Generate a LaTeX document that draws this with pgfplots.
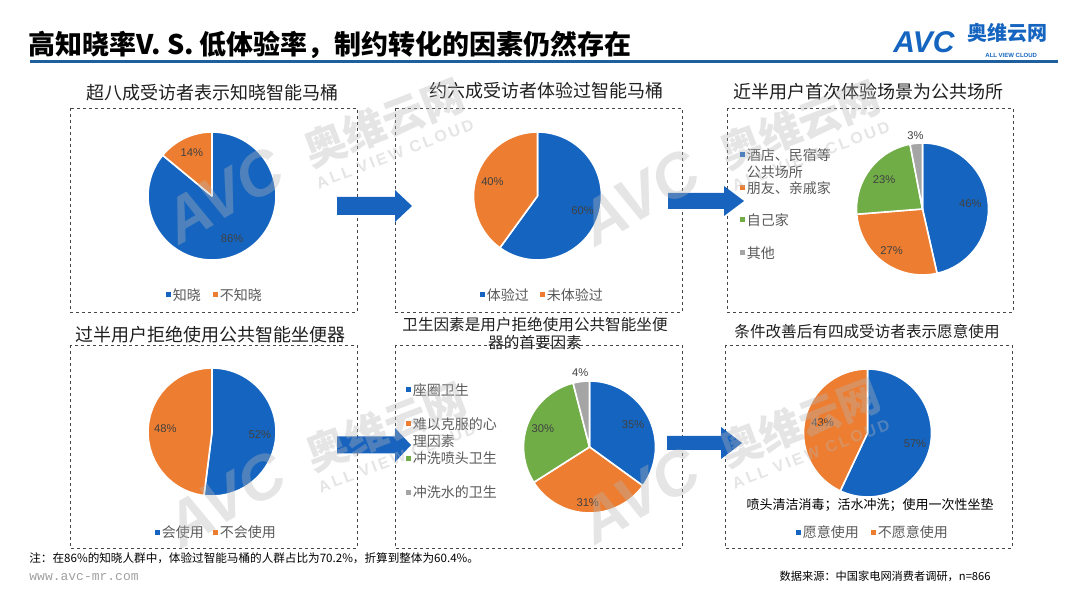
\documentclass[border=0pt]{standalone}
\usepackage{pgfplots}
\pgfplotsset{compat=1.18}
\usepackage{pgfplotstable}
\usepackage{fontspec}
\setmainfont{Noto Sans CJK SC}
\newfontfamily\arialf{Liberation Sans}
\newfontfamily\monof{Liberation Mono}

\definecolor{pblue}{RGB}{21,101,192}
\definecolor{porange}{RGB}{237,125,49}
\definecolor{pgreen}{RGB}{112,173,71}
\definecolor{pgray}{RGB}{165,165,165}
\definecolor{hdrblue}{RGB}{31,95,158}
\definecolor{arrowblue}{RGB}{23,99,190}
\definecolor{labgray}{RGB}{64,64,64}
\definecolor{leggray}{RGB}{89,89,89}
\definecolor{boxgray}{RGB}{70,70,70}
\definecolor{wwwgray}{RGB}{160,160,160}
\definecolor{wmgray}{RGB}{182,182,182}

% ---- data ----
\pgfplotstableread{
value color lr
86 pblue 0.74
14 porange 0.74
}\pieA
\pgfplotstableread{
value color lr
60 pblue 0.74
40 porange 0.74
}\pieB
\pgfplotstableread{
value color lr
46 pblue 0.73
27 porange 0.79
23 pgreen 0.73
3 pgray 1.12
}\pieC
\pgfplotstableread{
value color lr
52 pblue 0.75
48 porange 0.73
}\pieD
\pgfplotstableread{
value color lr
35 pblue 0.74
31 porange 0.85
30 pgreen 0.76
4 pgray 1.13
}\pieE
\pgfplotstableread{
value color lr
57 pblue 0.76
43 porange 0.72
}\pieF

\tikzset{pielabel/.style={font=\arialf\fontsize{5.6}{6}\selectfont, text=labgray, inner sep=0pt}}
\pgfplotsset{pieaxis/.style={hide axis, anchor=center, xmin=-1.25, xmax=1.25, ymin=-1.25, ymax=1.25, clip=false}}

\newcommand\piechart[2]{%
  \pgfplotstablegetrowsof{#1}%
  \pgfmathtruncatemacro\pien{\pgfplotsretval-1}%
  \gdef\pietot{0}%
  \foreach \i in {0,...,\pien}{%
    \pgfplotstablegetelem{\i}{value}\of{#1}%
    \pgfmathsetmacro\ptot{\pietot+\pgfplotsretval}%
    \xdef\pietot{\ptot}}%
  \gdef\pieacc{90}%
  \foreach \i in {0,...,\pien}{%
    \pgfplotstablegetelem{\i}{value}\of{#1}\let\pv\pgfplotsretval
    \pgfplotstablegetelem{\i}{color}\of{#1}\let\pc\pgfplotsretval
    \pgfmathsetmacro\pa{\pieacc}%
    \pgfmathsetmacro\pb{\pieacc-\pv/\pietot*360}%
    \pgfmathsetmacro\pxa{cos(\pa)}%
    \pgfmathsetmacro\pya{sin(\pa)}%
    \edef\temp{\noexpand\fill[\pc,draw=white,line width=0.8pt,line join=round] (axis cs:0,0) -- (axis cs:\pxa,\pya) arc[start angle=\pa, end angle=\pb, radius=#2pt] -- cycle;}\temp
    \xdef\pieacc{\pb}}%
  \gdef\pieacc{90}%
  \foreach \i in {0,...,\pien}{%
    \pgfplotstablegetelem{\i}{value}\of{#1}\let\pv\pgfplotsretval
    \pgfplotstablegetelem{\i}{lr}\of{#1}\let\plr\pgfplotsretval
    \pgfmathsetmacro\pa{\pieacc}%
    \pgfmathsetmacro\pb{\pieacc-\pv/\pietot*360}%
    \pgfmathsetmacro\pmid{(\pa+\pb)/2}%
    \pgfmathsetmacro\lx{\plr*cos(\pmid)}%
    \pgfmathsetmacro\ly{\plr*sin(\pmid)}%
    \edef\temp{\noexpand\node[pielabel] at (axis cs:\lx,\ly) {\pv\noexpand\%};}\temp
    \xdef\pieacc{\pb}}%
}

\newcommand\legitem[4]{%
  \fill[#3] (#1-2.5,#2-2.5) rectangle (#1+2.5,#2+2.5);
  \node[anchor=west, inner sep=0pt, font=\fontsize{7}{8}\selectfont, text=leggray] at (#1+4.5,#2) {#4};
}
% watermark: #1,#2 = centre of the Chinese logotype
\newcommand\watermark[2]{%
  \begin{scope}[opacity=0.36]
  \node[rotate=21, inner sep=0pt, font=\bfseries\fontsize{21}{22}\selectfont, text=wmgray] at (#1,#2) {奥维云网};
  \node[rotate=30, inner sep=0pt, font=\arialf\bfseries\itshape\fontsize{31}{32}\selectfont, text=wmgray] at (#1-160,#2+72) {AVC};
  \node[rotate=21, inner sep=0pt, font=\arialf\bfseries\fontsize{8}{9}\selectfont, text=wmgray] at (#1+11,#2+31) {A\,L\,L\, V\,I\,E\,W\, C\,L\,O\,U\,D};
  \end{scope}
}

\begin{document}
\begin{tikzpicture}[x=0.5pt,y=-0.5pt]
\path[use as bounding box] (0,0) rectangle (1080,608);

% header
\node[anchor=west, inner sep=0pt, font=\bfseries\fontsize{13.5}{15}\selectfont] at (28,45) {高知晓率V. S. 低体验率，制约转化的因素仍然存在};
\draw[hdrblue, line width=1.5pt] (30,62) -- (1058,62);
\node[anchor=west, inner sep=0pt, font=\arialf\bfseries\itshape\fontsize{15}{16}\selectfont, text=pblue] at (893,42) {AVC};
\node[anchor=west, inner sep=0pt, font=\bfseries\fontsize{10}{11}\selectfont, text=pblue] at (967,33) {奥维云网};
\node[anchor=west, inner sep=0pt, font=\arialf\bfseries\fontsize{3}{4}\selectfont, text=pblue] at (985,55) {ALL VIEW CLOUD};

% boxes
\tikzset{dbox/.style={draw=boxgray, line width=0.45pt, dash pattern=on 1.5pt off 1.5pt}}
\draw[dbox] (70,108) rectangle (357,312);
\draw[dbox] (395,108) rectangle (682,312);
\draw[dbox] (727,108) rectangle (1013,312);
\draw[dbox] (70,345) rectangle (357,548);
\draw[dbox] (395,345) rectangle (682,548);
\draw[dbox] (725,345) rectangle (1012,548);

% panel titles
\tikzset{ptitle/.style={inner sep=0pt, font=\fontsize{9}{10}\selectfont, text=black!88}}
\tikzset{ptitles/.style={inner sep=0pt, font=\fontsize{7.8}{9}\selectfont, text=black!88}}
\node[ptitle] at (212,93) {超八成受访者表示知晓智能马桶};
\node[ptitle] at (546,91) {约六成受访者体验过智能马桶};
\node[ptitle] at (868,92) {近半用户首次体验场景为公共场所};
\node[ptitle] at (210,335) {过半用户拒绝使用公共智能坐便器};
\node[ptitles] at (535,325) {卫生因素是用户拒绝使用公共智能坐便};
\node[ptitles] at (535,343) {器的首要因素};
\node[ptitles] at (867,332) {条件改善后有四成受访者表示愿意使用};

% arrows
\fill[arrowblue] (337,197) -- (395,197) -- (395,190) -- (412,206) -- (395,222) -- (395,215) -- (337,215) -- cycle;
\fill[arrowblue] (668,193) -- (724,193) -- (724,186) -- (744,201) -- (724,216) -- (724,209) -- (668,209) -- cycle;
\fill[arrowblue] (337,436.5) -- (395,436.5) -- (395,428) -- (411,445) -- (395,462) -- (395,453.5) -- (337,453.5) -- cycle;
\fill[arrowblue] (667,436) -- (721,436) -- (721,427) -- (742,443) -- (721,459) -- (721,450) -- (667,450) -- cycle;

% pies
\begin{axis}[pieaxis, x=32pt, y=32pt, at={(106pt,-98pt)}]
\piechart{\pieA}{32}
\end{axis}
\begin{axis}[pieaxis, x=32pt, y=32pt, at={(268.75pt,-98pt)}]
\piechart{\pieB}{32}
\end{axis}
\begin{axis}[pieaxis, x=33pt, y=33pt, at={(461.25pt,-104.5pt)}]
\piechart{\pieC}{33}
\end{axis}
\begin{axis}[pieaxis, x=32pt, y=32pt, at={(106pt,-216pt)}]
\piechart{\pieD}{32}
\end{axis}
\begin{axis}[pieaxis, x=33pt, y=33pt, at={(294.75pt,-223.5pt)}]
\piechart{\pieE}{33}
\end{axis}
\begin{axis}[pieaxis, x=32pt, y=32pt, at={(433.75pt,-216.5pt)}]
\piechart{\pieF}{32}
\end{axis}

% legends
\legitem{168}{295}{pblue}{知晓}
\legitem{215}{295}{porange}{不知晓}
\legitem{482}{295}{pblue}{体验过}
\legitem{542}{295}{porange}{未体验过}
\legitem{157}{532}{pblue}{会使用}
\legitem{215}{532}{porange}{不会使用}
\legitem{798}{532}{pblue}{愿意使用}
\legitem{873}{532}{porange}{不愿意使用}

\legitem{742}{155}{pblue}{酒店、民宿等}
\node[anchor=west, inner sep=0pt, font=\fontsize{7}{8}\selectfont, text=leggray] at (746.5,172) {公共场所};
\legitem{742}{188}{porange}{朋友、亲戚家}
\legitem{742}{220}{pgreen}{自己家}
\legitem{742}{253}{pgray}{其他}

\legitem{408}{390}{pblue}{座圈卫生}
\legitem{408}{424}{porange}{难以克服的心}
\node[anchor=west, inner sep=0pt, font=\fontsize{7}{8}\selectfont, text=leggray] at (412.5,441) {理因素};
\legitem{408}{458}{pgreen}{冲洗喷头卫生}
\legitem{408}{492}{pgray}{冲洗水的卫生}

\node[inner sep=0pt, font=\fontsize{6.5}{8}\selectfont, text=black] at (870,505) {喷头清洁消毒；活水冲洗；使用一次性坐垫};

% watermarks
\watermark{384}{123}
\watermark{800}{125}
\watermark{386}{427}
\watermark{800}{423}

% footer
\node[anchor=west, inner sep=0pt, font=\fontsize{5.8}{7}\selectfont] at (29,558) {注：在86\%的知晓人群中，体验过智能马桶的人群占比为70.2\%，折算到整体为60.4\%。};
\node[anchor=west, inner sep=0pt, font=\monof\fontsize{6.5}{7}\selectfont, text=wwwgray] at (29,577) {www.avc-mr.com};
\node[anchor=east, inner sep=0pt, font=\fontsize{5.6}{7}\selectfont] at (991,576) {数据来源：中国家电网消费者调研，n=866};
\end{tikzpicture}
\end{document}
